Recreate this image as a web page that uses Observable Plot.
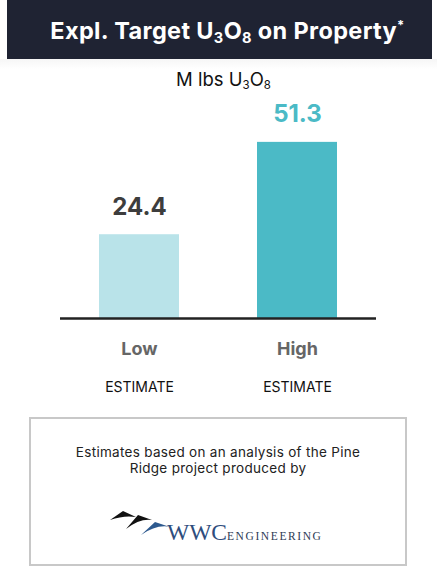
<!DOCTYPE html>
<html>
<head>
<meta charset="utf-8">
<script src="https://cdn.jsdelivr.net/npm/d3@7"></script>
<script src="https://cdn.jsdelivr.net/npm/@observablehq/plot@0.6"></script>
<style>
  html, body { margin: 0; padding: 0; background: #ffffff; }
  body { width: 437px; height: 569px; position: relative; overflow: hidden; font-family: "Inter", "Roboto", sans-serif; }
  #titlebar { position: absolute; left: 7px; top: 0; width: 425px; height: 59px; background: #1f2333; }
  #titlebar .t { position: absolute; left: 0; width: 425px; top: 17px; text-align: center; color: #fff; font-weight: 700; font-size: 23.5px; line-height: 28px; letter-spacing: 0.35px; padding-left: 16px; box-sizing: border-box; }
  #strip { position: absolute; left: 0; top: 59px; width: 437px; height: 10px; background: linear-gradient(#f6f6f6, #ffffff); }
  sub { font-size: 0.62em; vertical-align: -0.28em; line-height: 0; }
  sup { font-size: 0.55em; vertical-align: 0.7em; line-height: 0; }
  #subtitle { position: absolute; left: 0; width: 437px; top: 68px; text-align: center; font-size: 18.5px; color: #111; line-height: 22px; padding-left: 10px; box-sizing: border-box; }
  #chart { position: absolute; left: 0; top: 90px; }
  #box { position: absolute; left: 29px; top: 417px; width: 374px; height: 145px; border: 2px solid #c8c8c8; }
  #box .note { position: absolute; left: 0; width: 374px; top: 25px; text-align: center; font-size: 13.5px; letter-spacing: 0.3px; line-height: 16px; color: #222; }
  #logo { position: absolute; left: 100px; top: 500px; }
</style>
</head>
<body>
<div id="titlebar"><div class="t">Expl. Target U<sub>3</sub>O<sub>8</sub> on Property<sup>*</sup></div></div>
<div id="strip"></div>
<div id="subtitle">M lbs U<sub>3</sub>O<sub>8</sub></div>
<div id="chart"></div>
<div id="box">
  <div class="note">Estimates based on an analysis of the Pine<br>Ridge project produced by</div>
</div>
<svg id="logo" width="240" height="50" viewBox="0 0 240 50">
  <path d="M10,20 L23,11 L36,17 Q24,15 10,20 Z" fill="#111"/>
  <path d="M26,29 L38,15 L52,20 Q40,18 26,29 Z" fill="#111"/>
  <path d="M41,35 L55,22 L70,27 Q57,24 41,35 Z" fill="#2e5a8f"/>
  <text x="67" y="40" font-family="Liberation Serif, DejaVu Serif, serif" font-size="23.5" fill="#2e4d7d">WWC</text>
  <text x="127" y="40" font-family="Liberation Serif, DejaVu Serif, serif" font-size="11.5" letter-spacing="1.6" fill="#2e3b55">ENGINEERING</text>
</svg>
<script>
const categories = ["Low", "High"];
const values = [24.4, 51.3];
const valueLabels = ["24.4", "51.3"];
const subLabels = ["ESTIMATE", "ESTIMATE"];

const barColors = {Low: "#b9e3e9", High: "#4bbac6"};
const labelColors = {Low: "#3d3d3d", High: "#4bbac6"};

const data = categories.map((c, i) => ({cat: c, value: values[i], label: valueLabels[i], sub: subLabels[i]}));

const chart = Plot.plot({
  width: 437,
  height: 310,
  marginLeft: 60,
  marginRight: 61,
  marginTop: 22,
  marginBottom: 82,
  x: {domain: categories, paddingInner: 0.494, paddingOuter: 0.247, axis: null},
  y: {domain: [0, 60], axis: null},
  style: {fontFamily: "Inter, Roboto, sans-serif", background: "transparent", overflow: "visible"},
  marks: [
    Plot.barY(data, {x: "cat", y: "value", fill: d => barColors[d.cat]}),
    Plot.ruleY([0], {stroke: "#222", strokeWidth: 2.5}),
    Plot.text(data, {x: "cat", y: "value", text: "label", lineAnchor: "bottom", dy: -20, fontSize: 24, fontWeight: 700, fill: d => labelColors[d.cat]}),
    Plot.text(data, {x: "cat", y: () => 0, text: "cat", lineAnchor: "bottom", dy: 36, fontSize: 18, fontWeight: 700, fill: "#666"}),
    Plot.text(data, {x: "cat", y: () => 0, text: "sub", lineAnchor: "bottom", dy: 73, fontSize: 14, fill: "#111"})
  ]
});
document.getElementById("chart").appendChild(chart);
</script>
</body>
</html>
